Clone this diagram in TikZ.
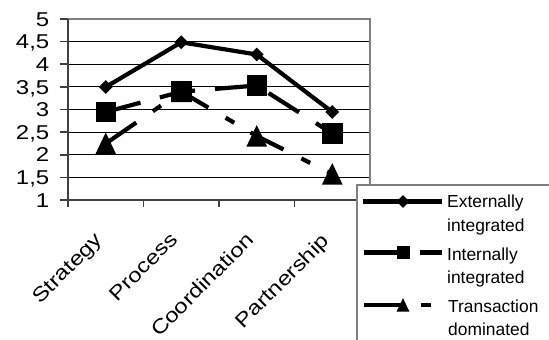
\documentclass[tikz,border=0pt]{standalone}
\usepackage{fontspec}
\setmainfont{Liberation Sans}
\usetikzlibrary{shapes.geometric}
\begin{document}
\begin{tikzpicture}[x=1pt,y=-1pt,
  grid/.style={black, line width=0.9pt},
  frame/.style={black!50, line width=1.8pt},
  axis/.style={black!75, line width=1.6pt},
  series/.style={black, line width=4.2pt, line cap=butt, line join=miter},
  intdash/.style={dash pattern=on 36pt off 20pt},
  trdash/.style={dash pattern=on 37pt off 20pt on 10pt off 19pt},
  ylab/.style={anchor=base east, inner sep=0pt, font=\fontsize{20}{24}\selectfont},
  xlab/.style={anchor=north east, rotate=45, inner sep=0pt, font=\fontsize{20}{24}\selectfont},
  leg/.style={anchor=base west, inner sep=0pt, font=\fontsize{17.4}{21}\selectfont},
  dmark/.style={diamond, fill=black, inner sep=0pt, minimum width=14pt, minimum height=14pt},
  smark/.style={rectangle, fill=black, inner sep=0pt, minimum size=20.5pt},
  tri/.pic={\fill (0,-11) -- (10.3,10.5) -- (-10.3,10.5) -- cycle;},
]
\clip (0,0) rectangle (549,340);
\fill[white] (0,0) rectangle (549,340);

% grid lines
\foreach \v in {1.5,2,2.5,3,3.5,4,4.5}{
  \draw[grid] (68,{200-(\v-1)*45.25}) -- (370,{200-(\v-1)*45.25});
}
% frame and axes
\draw[frame] (68,19) -- (370,19) -- (370,200);
\draw[axis] (68,19) -- (68,200) -- (370,200);
\foreach \v in {1,1.5,...,5}{
  \draw[axis] (60,{200-(\v-1)*45.25}) -- (68,{200-(\v-1)*45.25});
}
\foreach \x in {68,143.5,219,294.5}{
  \draw[axis] (\x,200) -- (\x,207);
}

% y labels
\foreach \v/\lab [count=\i] in {1/1,1.5/{1,5},2/2,2.5/{2,5},3/3,3.5/{3,5},4/4,4.5/{4,5},5/5}{
  \node[ylab] (yl\i) at (49.5,{200-(\v-1)*45.25+7.2}) {\scalebox{1.2}[1]{\lab}};
}

% category labels
\node[xlab] (cS) at (93.5,231) {\scalebox{1.2}[1]{Strategy}};
\node[xlab] (cP) at (169,231) {\scalebox{1.2}[1]{Process}};
\node[xlab] (cC) at (245,231) {\scalebox{1.2}[1]{Coordination}};
\node[xlab] (cA) at (320,232) {\scalebox{1.2}[1]{Partnership}};

% data points
\coordinate (e1) at (105.75,87);
\coordinate (e2) at (181.25,42.3);
\coordinate (e3) at (256.75,54.5);
\coordinate (e4) at (332.25,112);
\coordinate (i1) at (105.75,112);
\coordinate (i2) at (181.25,91.7);
\coordinate (i3) at (256.75,85.5);
\coordinate (i4) at (332.25,133.5);
\coordinate (t1) at (105.75,143.5);
\coordinate (t2) at (181.25,91.7);
\coordinate (t3) at (256.75,136);
\coordinate (t4) at (332.25,174);

\draw[series] (e1) -- (e2) -- (e3) -- (e4);
\draw[series,intdash] (i1) -- (i2) -- (i3) -- (i4);
\draw[series,trdash] (t1) -- (t2) -- (t3) -- (t4);

\foreach \p in {1,2,3,4}{
  \pic at (t\p) {tri};
}
\foreach \p in {1,2,3,4}{
  \node[smark] (is\p) at (i\p) {};
  \node[dmark] (ed\p) at (e\p) {};
}

% legend
\draw[black!50, line width=1.5pt, fill=white] (357,185) rectangle (600,400);
\coordinate (la1) at (363,201.5);
\coordinate (lb1) at (442,201.5);
\coordinate (la2) at (364,252.5);
\coordinate (lb2) at (442,252.5);
\coordinate (la3) at (364,305);
\coordinate (lb3) at (442,305);
\draw[series] (la1) -- (lb1);
\draw[series,intdash] (la2) -- (lb2);
\draw[series,trdash] (la3) -- (lb3);
\node[dmark, minimum width=13pt, minimum height=13pt] (lm1) at (403,201.5) {};
\node[smark, minimum size=13pt] (lm2) at (403,252.5) {};
\pic[scale=0.62] at (403,305) {tri};

\node[leg] (lt1a) at (447,207.5) {Externally};
\node[leg] (lt1b) at (447,231) {integrated};
\node[leg] (lt2a) at (447,260) {Internally};
\node[leg] (lt2b) at (447,283) {integrated};
\node[leg] (lt3a) at (448,312.5) {Transaction};
\node[leg] (lt3b) at (448,335) {dominated};
\end{tikzpicture}
\end{document}
